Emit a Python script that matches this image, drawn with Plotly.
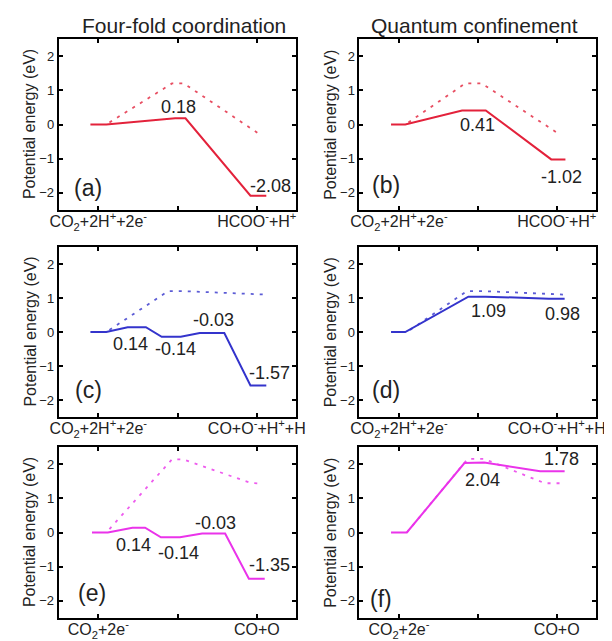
import plotly.graph_objects as go
from plotly.subplots import make_subplots

# ---------------- data ----------------
col_titles = ["Four-fold coordination", "Quantum confinement"]
panel_tags = ["(a)", "(b)", "(c)", "(d)", "(e)", "(f)"]

xlab_row1 = ["CO<sub>2</sub>+2H<sup>+</sup>+2e<sup>-</sup>", "", "HCOO<sup>-</sup>+H<sup>+</sup>"]
xlab_row2 = ["CO<sub>2</sub>+2H<sup>+</sup>+2e<sup>-</sup>", "", "CO+O<sup>-</sup>+H<sup>+</sup>+H"]
xlab_row3 = ["CO<sub>2</sub>+2e<sup>-</sup>", "", "CO+O"]
tick_vals = [1, 2, 3]
y_ticks = [-2, -1, 0, 1, 2]

# panel (a)
a_sx = [0.9, 1.1, 1.97, 2.1, 2.92, 3.12]
a_sy = [0, 0, 0.18, 0.18, -2.08, -2.08]
a_dx = [1.14, 1.93, 2.08, 3.02]
a_dy = [0.06, 1.2, 1.2, -0.26]
a_lab = ["0.18", "-2.08"]
a_lx = [2.01, 3.17]
a_ly = [0.51, -1.79]

# panel (b)
b_sx = [0.9, 1.08, 1.8, 2.1, 2.93, 3.11]
b_sy = [0, 0, 0.41, 0.41, -1.02, -1.02]
b_dx = [1.12, 1.84, 2.05, 3.03]
b_dy = [0.06, 1.2, 1.2, -0.28]
b_lab = ["0.41", "-1.02"]
b_lx = [2.0, 3.06]
b_ly = [-0.02, -1.54]

# panel (c)
c_sx = [0.9, 1.1, 1.37, 1.6, 1.8, 2.04, 2.28, 2.59, 2.92, 3.12]
c_sy = [0, 0, 0.14, 0.14, -0.14, -0.14, -0.03, -0.03, -1.57, -1.57]
c_dx = [1.14, 1.88, 2.1, 3.12]
c_dy = [0.06, 1.2, 1.2, 1.1]
c_lab = ["0.14", "-0.14", "-0.03", "-1.57"]
c_lx = [1.41, 1.98, 2.45, 3.16]
c_ly = [-0.34, -0.49, 0.36, -1.22]

# panel (d)
d_sx = [0.9, 1.08, 1.88, 2.1, 2.9, 3.1]
d_sy = [0, 0, 1.04, 1.04, 0.98, 0.98]
d_dx = [1.14, 1.86, 2.1, 3.1]
d_dy = [0.06, 1.2, 1.2, 1.1]
d_lab = ["1.09", "0.98"]
d_lx = [2.13, 3.07]
d_ly = [0.63, 0.54]

# panel (e)
e_sx = [0.92, 1.12, 1.43, 1.59, 1.79, 2.03, 2.31, 2.6, 2.9, 3.1]
e_sy = [0, 0, 0.14, 0.14, -0.14, -0.14, -0.03, -0.03, -1.35, -1.35]
e_dx = [1.14, 1.93, 2.07, 2.92, 3.08]
e_dy = [0.1, 2.14, 2.14, 1.45, 1.43]
e_lab = ["0.14", "-0.14", "-0.03", "-1.35"]
e_lx = [1.45, 2.01, 2.48, 3.16]
e_ly = [-0.36, -0.59, 0.27, -0.96]

# panel (f)
f_sx = [0.9, 1.1, 1.83, 2.08, 2.79, 3.1]
f_sy = [0, 0, 2.03, 2.05, 1.79, 1.79]
f_dx = [1.1, 1.87, 2.08, 2.85, 3.1]
f_dy = [0.0, 2.15, 2.15, 1.44, 1.44]
f_lab = ["2.04", "1.78"]
f_lx = [2.06, 3.06]
f_ly = [1.53, 2.15]

tag_x = [0.87, 0.84, 0.88, 0.84, 0.92, 0.77]
tag_y = [-1.85, -1.78, -1.71, -1.71, -1.76, -1.95]

RED = "#e3223b"
BLUE = "#3434cc"
MAG = "#ea33ea"

panels = [
    (a_sx, a_sy, a_dx, a_dy, a_lab, a_lx, a_ly, RED),
    (b_sx, b_sy, b_dx, b_dy, b_lab, b_lx, b_ly, RED),
    (c_sx, c_sy, c_dx, c_dy, c_lab, c_lx, c_ly, BLUE),
    (d_sx, d_sy, d_dx, d_dy, d_lab, d_lx, d_ly, BLUE),
    (e_sx, e_sy, e_dx, e_dy, e_lab, e_lx, e_ly, MAG),
    (f_sx, f_sy, f_dx, f_dy, f_lab, f_lx, f_ly, MAG),
]
xlabels = [xlab_row1, xlab_row2, xlab_row3]

# ---------------- layout geometry (figure pixels; page body adds an 8px margin) ----------------
W, H = 604, 633
col_px = [(43, 288), (353, 597)]
row_px = [(31, 202), (239, 409), (439, 610)]
title_cx = [172, 472]
title_cy = 17.5
FONT = "Arial, Liberation Sans, Helvetica, sans-serif"

fig = make_subplots(rows=3, cols=2)

annotations = []
for i, (sx, sy, dx, dy, lab, lx, ly, color) in enumerate(panels):
    r, c = i // 2 + 1, i % 2 + 1
    idx = i + 1
    xref = "x" if idx == 1 else f"x{idx}"
    yref = "y" if idx == 1 else f"y{idx}"
    fig.add_trace(go.Scatter(x=dx, y=dy, mode="lines",
                             line=dict(color=color, width=1.8, dash="3px,6px"),
                             opacity=0.8, showlegend=False, hoverinfo="skip"),
                  row=r, col=c)
    fig.add_trace(go.Scatter(x=sx, y=sy, mode="lines",
                             line=dict(color=color, width=2),
                             showlegend=False, hoverinfo="skip"),
                  row=r, col=c)
    for t, tx, ty in zip(lab, lx, ly):
        annotations.append(dict(x=tx, y=ty, xref=xref, yref=yref, text=t,
                                showarrow=False, font=dict(size=18, color="#222", family=FONT)))
    annotations.append(dict(x=tag_x[i], y=tag_y[i], xref=xref, yref=yref, text=panel_tags[i],
                            showarrow=False, font=dict(size=23, color="#222", family=FONT)))

    x0, x1 = col_px[c - 1]
    y0, y1 = row_px[r - 1]
    axis_common = dict(showline=True, linecolor="black", linewidth=2, mirror="ticks",
                       ticks="inside", ticklen=4, tickwidth=1.5, tickcolor="black",
                       showgrid=False, zeroline=False)
    fig.update_xaxes(domain=[x0 / W, x1 / W], range=[0.5, 3.5], tickvals=tick_vals,
                     ticktext=xlabels[r - 1], ticklabelstandoff=-4,
                     tickfont=dict(family=FONT, color="#222", size=16),
                     row=r, col=c, **axis_common)
    fig.update_yaxes(domain=[1 - y1 / H, 1 - y0 / H], range=[-2.5, 2.5], tickvals=y_ticks,
                     tickfont=dict(family=FONT, color="#222", size=13),
                     row=r, col=c, **axis_common)

    # y axis title
    annotations.append(dict(x=(x0 - 30) / W, y=1 - (y0 + y1) / 2 / H, xref="paper", yref="paper",
                            text="Potential energy (eV)", textangle=-90, showarrow=False,
                            xanchor="center", yanchor="middle",
                            font=dict(size=16, color="#222", family=FONT)))

for c, title in enumerate(col_titles):
    annotations.append(dict(x=title_cx[c] / W, y=1 - title_cy / H, xref="paper", yref="paper",
                            text=title, showarrow=False, xanchor="center", yanchor="middle",
                            font=dict(size=21, color="#222", family=FONT)))

fig.update_layout(width=W, height=H, margin=dict(l=0, r=0, t=0, b=0),
                  paper_bgcolor="white", plot_bgcolor="white",
                  annotations=annotations, font=dict(family=FONT))

fig.write_html("out.html")
